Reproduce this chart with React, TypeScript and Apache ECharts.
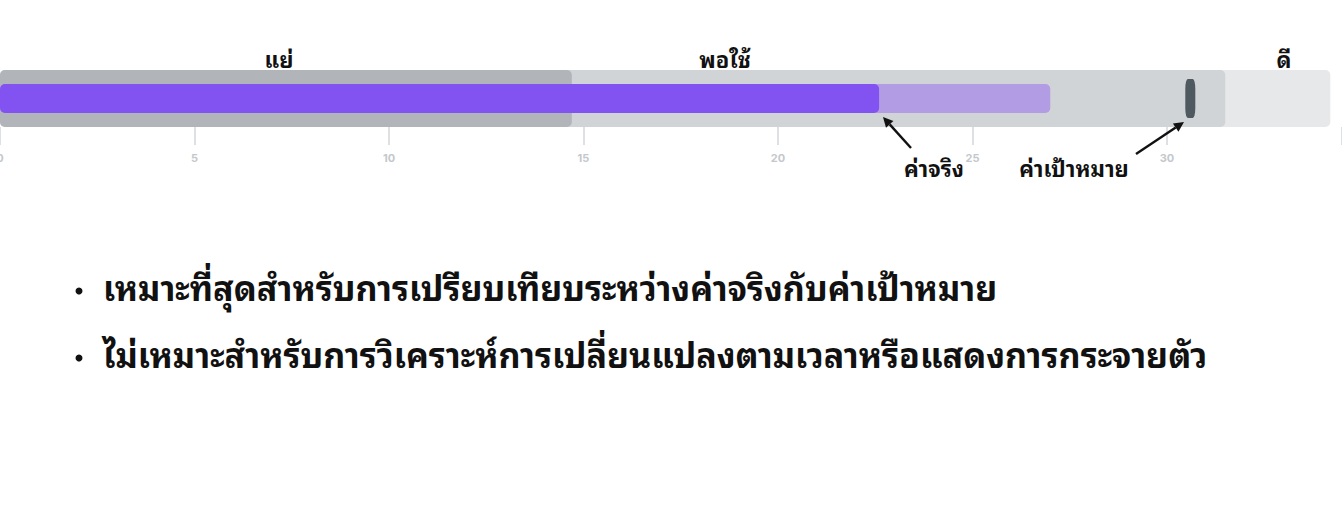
import * as React from "react";
import * as echarts from "echarts";

// bullet chart: qualitative bands, actual, projected, target
const bandNames = ["แย่", "พอใช้", "ดี"];
const bandLimits = [14.7, 31.5, 34.2];
const bandColors = ["#b1b5ba", "#d1d4d7", "#e7e8ea"];
const actualValue = [22.6];
const projectedValue = [27.0];
const targetValue = [30.6];
const tickValues = [0, 5, 10, 15, 20, 25, 30];

const notes = [
  "เหมาะที่สุดสำหรับการเปรียบเทียบระหว่างค่าจริงกับค่าเป้าหมาย",
  "ไม่เหมาะสำหรับการวิเคราะห์การเปลี่ยนแปลงตามเวลาหรือแสดงการกระจายตัว",
];

const FONT = "'Noto Sans Thai Looped', Loma, Garuda, 'Noto Sans Thai', sans-serif";

function arrow(x1: number, y1: number, x2: number, y2: number) {
  const a = Math.atan2(y2 - y1, x2 - x1);
  const L = 10, W = 5;
  const bx = x2 - L * Math.cos(a), by = y2 - L * Math.sin(a);
  const px = -Math.sin(a) * W, py = Math.cos(a) * W;
  return [
    { type: "line", z: 100, shape: { x1, y1, x2: bx, y2: by }, style: { stroke: "#111", lineWidth: 2.4 } },
    { type: "polygon", z: 100, shape: { points: [[x2, y2], [bx + px, by + py], [bx - px, by - py]] }, style: { fill: "#111" } },
  ];
}

export default function App() {
  const ref = React.useRef<HTMLDivElement | null>(null);

  React.useEffect(() => {
    if (!ref.current) return;
    const chart = echarts.init(ref.current, undefined, { renderer: "svg" });

    // draw bands widest first so narrower ones sit on top
    const bandSeries = bandLimits
      .map((v, i) => ({
        type: "bar",
        yAxisIndex: 0,
        data: [v],
        barWidth: 57,
        barGap: "-100%",
        itemStyle: { color: bandColors[i], borderRadius: 5 },
        z: 1,
      }))
      .reverse();

    const label = (text: string, x: number, y: number, size: number, weight = "bold", align = "center", va = "bottom") => ({
      type: "text",
      z: 100,
      x,
      y,
      style: { text, font: `${weight} ${size}px ${FONT}`, fill: "#111", align, verticalAlign: va },
    });

    chart.setOption({
      animation: false,
      backgroundColor: "#ffffff",
      textStyle: { fontFamily: FONT },
      grid: { left: 0, right: 0, top: 70, bottom: 382, containLabel: false, outerBoundsMode: "none" },
      xAxis: {
        type: "value",
        min: 0,
        max: 34.5,
        interval: 5,
        axisLine: { show: false },
        splitLine: { show: false },
        axisTick: { show: true, length: 18, lineStyle: { color: "#d3d6da", width: 1.5 } },
        axisLabel: {
          color: "#c4c8cc",
          fontSize: 11,
          fontWeight: "bold",
          margin: 25,
          fontFamily: "Inter, sans-serif",
          formatter: (v: number) => (tickValues.includes(v) ? String(v) : ""),
        },
      },
      yAxis: [
        { type: "category", data: [""], show: false },
        { type: "category", data: [""], show: false },
      ],
      series: [
        ...bandSeries,
        {
          type: "bar",
          yAxisIndex: 1,
          data: projectedValue,
          barWidth: 29,
          barGap: "-100%",
          itemStyle: { color: "#b29ce4", borderRadius: 5 },
          z: 2,
        },
        {
          type: "bar",
          yAxisIndex: 1,
          data: actualValue,
          barWidth: 29,
          barGap: "-100%",
          itemStyle: { color: "#8253f0", borderRadius: 5 },
          z: 3,
        },
        {
          type: "scatter",
          yAxisIndex: 1,
          data: [[targetValue[0], 0]],
          symbol: "roundRect",
          symbolSize: [10, 39],
          itemStyle: { color: "#2e3b42" },
          z: 4,
        },
      ],
      graphic: [
        label(bandNames[0], 279, 69, 22),
        label(bandNames[1], 725, 69, 22),
        label(bandNames[2], 1284, 69, 22),
        label("ค่าจริง", 934, 178, 22),
        label("ค่าเป้าหมาย", 1074, 178, 22),
        ...arrow(911, 148, 883, 117),
        ...arrow(1136, 154, 1184, 122),
        { type: "circle", z: 100, shape: { cx: 79, cy: 291, r: 3.5 }, style: { fill: "#111" } },
        label(notes[0], 103, 285, 34, "bold", "left", "middle"),
        { type: "circle", z: 100, shape: { cx: 79, cy: 358, r: 3.5 }, style: { fill: "#111" } },
        label(notes[1], 103, 352, 34, "bold", "left", "middle"),
      ],
    });

    return () => chart.dispose();
  }, []);

  return (
    <div
      ref={ref}
      style={{ position: "absolute", left: 0, top: 0, width: 1342, height: 509 }}
      role="img"
      aria-label="bullet chart"
    />
  );
}
